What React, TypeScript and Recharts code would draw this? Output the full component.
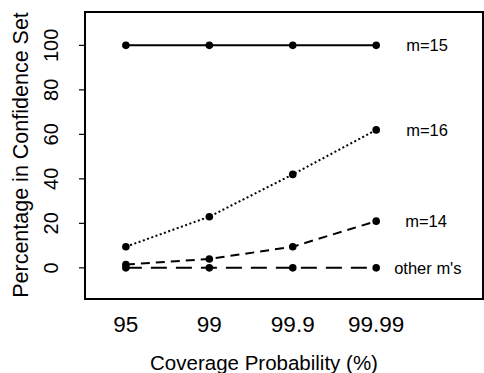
import React from 'react';
import { LineChart, Line, XAxis, YAxis, ReferenceArea, LabelList } from 'recharts';

const categories = ['95', '99', '99.9', '99.99'];
const m15 = [100, 100, 100, 100];
const m16 = [9.5, 23, 42, 62];
const m14 = [1.5, 4, 9.5, 21];
const others = [0, 0, 0, 0];
const seriesNames = ['m=15', 'm=16', 'm=14', "other m's"];
const yTicks = [0, 20, 40, 60, 80, 100];

const data = categories.map((c, i) => ({
  x: i,
  label: c,
  m15: m15[i],
  m16: m16[i],
  m14: m14[i],
  other: others[i],
}));

const FONT = '"Liberation Sans", Arial, Helvetica, sans-serif';

const YTick = (props: any) => {
  const { x, y, payload } = props;
  const bx = x - 19;
  return (
    <text
      x={bx}
      y={y}
      transform={`rotate(-90, ${bx}, ${y})`}
      textAnchor="middle"
      fontSize={20}
      fontFamily={FONT}
      fill="#000"
    >
      {payload.value}
    </text>
  );
};

const XTick = (props: any) => {
  const { x, y, payload } = props;
  return (
    <text x={x} y={y + 25} textAnchor="middle" fontSize={22.5} fontFamily={FONT} fill="#000">
      {categories[payload.value]}
    </text>
  );
};

const makeLabel = (name: string, dx: number) => (props: any) => {
  const { x, y, index } = props;
  if (index !== categories.length - 1) return null;
  return (
    <text x={x + dx} y={y + 6} textAnchor="start" fontSize={16.5} fontFamily={FONT} fill="#000">
      {name}
    </text>
  );
};

const dot = { r: 3.8, fill: '#000', stroke: '#000', strokeWidth: 0 };

export default function App() {
  return (
    <div style={{ position: 'absolute', left: 0, top: 0, width: 484, height: 373, background: '#fff' }}>
      <LineChart width={484} height={373} data={data} margin={{ top: 12, right: 1, bottom: 0, left: 0 }}>
        <XAxis
          dataKey="x"
          type="number"
          domain={[-0.49, 4.28]}
          ticks={[0, 1, 2, 3]}
          tick={<XTick />}
          tickLine={false}
          axisLine={false}
          height={74}
        />
        <YAxis
          type="number"
          domain={[-14, 115]}
          ticks={yTicks}
          tick={<YTick />}
          tickLine={{ stroke: '#000', strokeWidth: 1.2 }}
          tickSize={6}
          axisLine={false}
          width={85}
          allowDataOverflow
        />
        <ReferenceArea x1={-0.49} x2={4.28} y1={-14} y2={115} fill="none" stroke="#000" strokeWidth={2} fillOpacity={0} />
        <Line dataKey="m15" stroke="#000" strokeWidth={2} dot={dot} isAnimationActive={false}>
          <LabelList content={makeLabel(seriesNames[0], 30)} />
        </Line>
        <Line dataKey="m16" stroke="#000" strokeWidth={2} strokeDasharray="2 2.5" dot={dot} isAnimationActive={false}>
          <LabelList content={makeLabel(seriesNames[1], 30)} />
        </Line>
        <Line dataKey="m14" stroke="#000" strokeWidth={2} strokeDasharray="9 6" dot={dot} isAnimationActive={false}>
          <LabelList content={makeLabel(seriesNames[2], 29)} />
        </Line>
        <Line dataKey="other" stroke="#000" strokeWidth={2} strokeDasharray="16 9" dot={dot} isAnimationActive={false}>
          <LabelList content={makeLabel(seriesNames[3], 18)} />
        </Line>
        <text x={21} y={155} transform="rotate(-90, 21, 155)" textAnchor="middle" dominantBaseline="central" fontSize={21.5} fontFamily={FONT} fill="#000">
          Percentage in Confidence Set
        </text>
        <text x={264} y={362} textAnchor="middle" dominantBaseline="central" fontSize={20.5} fontFamily={FONT} fill="#000">
          Coverage Probability (%)
        </text>
      </LineChart>
    </div>
  );
}
